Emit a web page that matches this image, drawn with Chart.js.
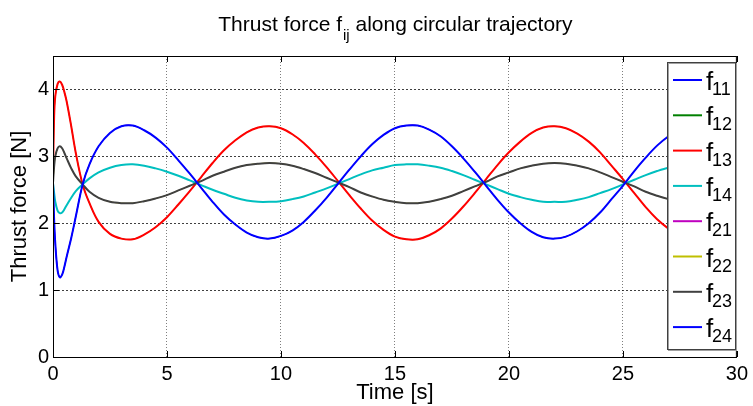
<!DOCTYPE html>
<html><head><meta charset="utf-8">
<script src="https://cdn.jsdelivr.net/npm/chart.js@4/dist/chart.umd.min.js"></script>
<style>html,body{margin:0;padding:0;background:#fff;}#wrap{width:753px;height:406px;}</style>
</head><body><div id="wrap"><canvas id="c" width="753" height="406"></canvas></div>
<script>
const FONT = "'Liberation Sans', Arial, Helvetica, sans-serif";

const timeS = [0,0.05,0.1,0.2,0.3,0.4,0.5,0.6,0.8,1.0,1.3,1.6,2.0,2.5,3.0,
  3.5,4,4.5,5,5.5,6,6.5,7,7.5,8,8.5,9,9.5,10,10.5,11,11.5,12,12.5,13,13.5,14,14.5,15,
  15.5,16,16.5,17,17.5,18,18.5,19,19.5,20,20.5,21,21.5,22,22.5,23,23.5,24,24.5,25,
  25.5,26,26.5,27,27.5,28,28.5,29,29.5,30];

const f11 = [2.6,2.05,1.7,1.3,1.19,1.23,1.35,1.5,1.78,2.1,2.58,2.88,3.15,3.35,3.45,
  3.46,3.39,3.28,3.13,2.94,2.74,2.53,2.32,2.13,1.98,1.86,1.79,1.77,1.81,1.89,2.02,2.19,2.38,2.59,2.80,
  3.00,3.18,3.32,3.42,3.46,3.46,3.40,3.30,3.15,2.97,2.77,2.56,2.35,2.16,2.00,1.87,1.79,1.77,1.80,1.88,
  2.00,2.16,2.36,2.56,2.78,2.98,3.16,3.30,3.41,3.46,3.46,3.42,3.31,3.17];
const f13 = [2.7,3.6,3.9,4.08,4.12,4.07,3.96,3.82,3.45,3.05,2.58,2.3,2.02,1.84,1.77,
  1.76,1.83,1.94,2.09,2.28,2.48,2.69,2.90,3.09,3.24,3.36,3.43,3.45,3.42,3.33,3.20,3.03,2.84,2.63,2.42,
  2.22,2.04,1.90,1.80,1.76,1.76,1.82,1.92,2.07,2.25,2.45,2.66,2.87,3.06,3.22,3.35,3.43,3.45,3.42,3.34,
  3.22,3.06,2.86,2.66,2.45,2.24,2.06,1.92,1.81,1.76,1.76,1.81,1.91,2.05];
const f14 = [2.6,2.45,2.32,2.19,2.15,2.16,2.21,2.27,2.38,2.48,2.58,2.67,2.76,2.83,2.87,
  2.88,2.86,2.82,2.77,2.71,2.64,2.57,2.50,2.44,2.38,2.34,2.32,2.32,2.33,2.36,2.40,2.46,2.52,2.59,2.66,
  2.73,2.79,2.83,2.87,2.88,2.88,2.86,2.83,2.78,2.72,2.65,2.58,2.51,2.44,2.39,2.35,2.32,2.32,2.32,2.35,
  2.39,2.45,2.51,2.58,2.65,2.72,2.78,2.83,2.86,2.88,2.88,2.87,2.83,2.79];
const f23 = [2.6,2.85,3.0,3.12,3.15,3.12,3.05,2.97,2.82,2.7,2.58,2.47,2.38,2.32,2.30,
  2.30,2.33,2.37,2.42,2.49,2.56,2.63,2.71,2.77,2.83,2.87,2.89,2.90,2.89,2.86,2.81,2.75,2.68,2.61,2.54,
  2.46,2.40,2.35,2.32,2.30,2.30,2.32,2.36,2.41,2.48,2.55,2.62,2.70,2.76,2.82,2.86,2.89,2.90,2.89,2.86,
  2.82,2.76,2.69,2.62,2.55,2.47,2.41,2.36,2.32,2.30,2.30,2.32,2.35,2.41];
// series hidden underneath the visible ones (identical traces)
const f12 = f13.slice();
const f21 = f11.slice();
const f22 = f23.slice();
const f24 = f11.slice();

const seriesLabels = ['11','12','13','14','21','22','23','24'];
const seriesValues = [f11,f12,f13,f14,f21,f22,f23,f24];
const seriesColors = ['#0000ff','#008000','#ff0000','#00bfbf','#bf00bf','#bfbf00','#404040','#0000ff'];
const hiddenUnder = [true,true,false,false,true,true,false,false];
const xTicks = [0,5,10,15,20,25,30];
const yTicks = [0,1,2,3,4];

const datasets = seriesValues.map((vals,i)=>({
  label:'f'+seriesLabels[i],
  data: timeS.map((t,k)=>({x:t,y:vals[k]})),
  borderColor: seriesColors[i],
  backgroundColor: seriesColors[i],
  borderWidth: hiddenUnder[i] ? 1 : 2,
  pointRadius: 0,
  tension: 0.35,
  fill: false,
  order: seriesValues.length-1-i
}));

const decorPlugin = {
  id:'decor',
  afterDatasetsDraw(chart){
    const ctx = chart.ctx, a = chart.chartArea;
    const xs = chart.scales.x, ys = chart.scales.y;
    ctx.save();
    ctx.strokeStyle = '#000'; ctx.lineWidth = 1; ctx.setLineDash([]);
    ctx.strokeRect(a.left+0.5, a.top+0.5, a.right-a.left-1, a.bottom-a.top);
    ctx.beginPath();
    xTicks.forEach(v=>{
      const px = Math.round(xs.getPixelForValue(v))+0.5;
      ctx.moveTo(px,a.bottom); ctx.lineTo(px,a.bottom-6);
      ctx.moveTo(px,a.top); ctx.lineTo(px,a.top+6);
    });
    yTicks.forEach(v=>{
      const py = Math.round(ys.getPixelForValue(v))+0.5;
      ctx.moveTo(a.left,py); ctx.lineTo(a.left+6,py);
      ctx.moveTo(a.right,py); ctx.lineTo(a.right-6,py);
    });
    ctx.stroke();

    // title with subscript
    ctx.fillStyle = '#000';
    ctx.textBaseline = 'alphabetic';
    ctx.textAlign = 'left';
    const tf = '21px '+FONT, sf = '15px '+FONT;
    const p1 = 'Thrust force f', p2 = 'ij', p3 = ' along circular trajectory';
    ctx.font = tf; const w1 = ctx.measureText(p1).width, w3 = ctx.measureText(p3).width;
    ctx.font = sf; const w2 = ctx.measureText(p2).width;
    let x0 = (a.left+a.right)/2 - (w1+w2+w3)/2;
    ctx.font = tf; ctx.fillText(p1, x0, 31);
    ctx.font = sf; ctx.fillText(p2, x0+w1+1, 40);
    ctx.font = tf; ctx.fillText(p3, x0+w1+w2+1, 31);

    // axis titles
    ctx.font = '22px '+FONT; ctx.textAlign = 'center'; ctx.textBaseline = 'middle';
    ctx.fillText('Time [s]', (a.left+a.right)/2, 393);
    ctx.save();
    ctx.translate(20, (a.top+a.bottom)/2);
    ctx.rotate(-Math.PI/2);
    ctx.fillText('Thrust force [N]', 0, 0);
    ctx.restore();

    // legend
    const lx = 667, ly = 62, lw = 68, lh = 287;
    ctx.fillStyle = '#fff';
    ctx.fillRect(lx, ly, lw, lh);
    ctx.strokeStyle = '#a0a0a0';
    ctx.strokeRect(lx+1.5, ly+1.5, lw, lh);
    ctx.strokeStyle = '#404040';
    ctx.strokeRect(lx+0.5, ly+0.5, lw, lh);
    seriesLabels.forEach((lab,i)=>{
      const yc = 80 + i*35.3;
      ctx.strokeStyle = seriesColors[i]; ctx.lineWidth = 2;
      ctx.beginPath(); ctx.moveTo(673, yc); ctx.lineTo(702, yc); ctx.stroke();
      ctx.fillStyle = '#000'; ctx.textAlign = 'left'; ctx.textBaseline = 'alphabetic';
      ctx.font = '26px '+FONT; ctx.fillText('f', 706, yc+10);
      ctx.font = '18px '+FONT; ctx.fillText(lab, 712, yc+15);
    });
    ctx.restore();
  }
};

new Chart(document.getElementById('c'), {
  type:'line',
  data:{datasets},
  options:{
    responsive:false, animation:false, devicePixelRatio:1,
    layout:{padding:{left:0, top:56, right:15, bottom:0}},
    plugins:{legend:{display:false}, title:{display:false}, tooltip:{enabled:false}},
    scales:{
      x:{
        type:'linear', min:0, max:30,
        afterBuildTicks: s => { s.ticks = xTicks.map(v=>({value:v})); },
        afterFit: s => { s.height = 49; },
        ticks:{font:{family:FONT, size:20}, color:'#000', padding:5, maxRotation:0, autoSkip:false},
        grid:{color:'rgba(0,0,0,0.5)', lineWidth:1, drawTicks:false},
        border:{display:true, color:'#000', width:1, dash:[1,2]}
      },
      y:{
        type:'linear', min:0, max:4.5,
        afterBuildTicks: s => { s.ticks = yTicks.map(v=>({value:v})); },
        afterFit: s => { s.width = 53; },
        ticks:{font:{family:FONT, size:20}, color:'#000', padding:4},
        grid:{color:'rgba(0,0,0,0.75)', lineWidth:1, drawTicks:false},
        border:{display:true, color:'#000', width:1, dash:[2,2]}
      }
    }
  },
  plugins:[decorPlugin]
});
</script></body></html>
